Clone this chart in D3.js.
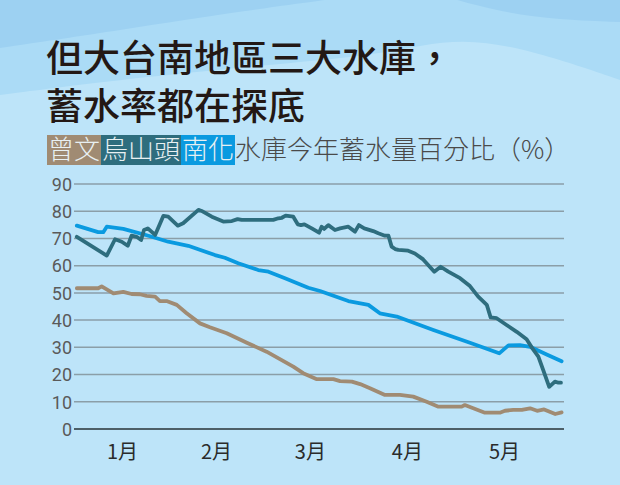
<!DOCTYPE html>
<html>
<head>
<meta charset="utf-8">
<script src="https://cdn.jsdelivr.net/npm/d3@7"></script>
<style>
  html, body { margin: 0; padding: 0; background: #bde4f9; }
  svg { display: block; }
</style>
</head>
<body>
<svg id="chart" width="620" height="485"></svg>
<script>
// 曾文水庫
const zengwenDay = [1.3, 8, 9.1, 12.8, 15.9, 18.5, 21.1, 23.2, 25.9, 27.4, 29.5, 32.7, 35.8, 40, 43.1, 48.4, 54.7, 60.9, 69.3, 72.4, 76.7, 81.9, 84, 87.7, 90.3, 93.4, 98.1, 102.8, 107, 111.2, 114.9, 122.2, 123.2, 129.5, 134.2, 135.8, 138.4, 141.1, 143.7, 145.9, 148.1, 151.6, 153.6]
const zengwenVal = [51.7, 51.7, 52.4, 49.8, 50.4, 49.6, 49.5, 48.9, 48.6, 47, 47, 45.6, 42.5, 38.8, 37.4, 35.2, 31.7, 28.4, 22.9, 20.5, 18.3, 18.3, 17.6, 17.4, 16.5, 15, 12.5, 12.5, 11.9, 10, 8.2, 8.2, 8.8, 6, 6, 6.7, 7, 7, 7.6, 6.7, 7.2, 5.5, 6.1]
// 烏山頭水庫
const wushantouDay = [1.3, 10.7, 13.3, 15.4, 17.3, 18.5, 20.1, 21.5, 22.4, 23.6, 25.9, 28.5, 30, 33, 34.7, 39.5, 40.5, 43.7, 47.3, 50, 51.8, 53.1, 63, 64.6, 65.7, 66.9, 69.3, 70.7, 71.7, 72.8, 75.1, 77.4, 78.2, 79, 80.3, 82.4, 84, 86.6, 88.7, 89.9, 91.6, 94.4, 96, 98.1, 99.2, 100.2, 101.3, 102.3, 105.4, 107.5, 110.1, 113.6, 115.6, 118, 121.7, 124.8, 127.4, 130.1, 131.3, 133.2, 136.3, 139.5, 142.6, 144.2, 146.3, 147.8, 149.7, 151.5, 152.6, 153.4]
const wushantouVal = [70.6, 63.7, 69.7, 68.8, 67.3, 71, 70.6, 69.4, 73.1, 73.7, 71.3, 78.3, 78, 74.7, 75.6, 80.5, 80.1, 78, 76.2, 76.4, 77.1, 76.8, 76.8, 77.4, 77.6, 78.4, 78, 75.2, 74.9, 75.2, 73.7, 72.1, 74.3, 73.5, 74.9, 73.1, 73.7, 74.3, 72.5, 74.9, 73.7, 72.7, 71.9, 71, 71, 67, 66.1, 65.8, 65.5, 64.5, 62.3, 57.8, 59.6, 57.8, 55.4, 52.5, 48.6, 45.6, 41, 40.7, 38.2, 35.7, 33, 30, 26.6, 21.7, 15.5, 17.4, 17, 17]
// 南化水庫
const nanhuaDay = [1.3, 8, 9.6, 10.7, 15.9, 23.8, 30, 36.3, 44.7, 47.8, 52, 58.3, 61.5, 66.7, 74, 77.7, 86.6, 92.9, 96.5, 101.8, 113.3, 124.8, 134, 136.9, 140.5, 143.7, 148.9, 153.6]
const nanhuaVal = [74.7, 72.3, 72.3, 74.3, 73.5, 71, 68.8, 67.3, 63.9, 62.9, 60.9, 58.4, 57.8, 55.4, 51.9, 50.7, 47, 45.6, 42.5, 41.3, 36.4, 31.7, 27.8, 30.7, 30.8, 30.2, 27.4, 24.9]

const yTicks = [0, 10, 20, 30, 40, 50, 60, 70, 80, 90]
const monthLabels = ["1月", "2月", "3月", "4月", "5月"]
const monthMid = [15.5, 45, 74.5, 105, 135.5]

const names = ["曾文", "烏山頭", "南化"]
const colors = ["#a08b73", "#2e6d7e", "#0a9ae0"]

let svg = d3.select("#chart")
const width = 620, height = 485

// 背景的波浪
svg.append("rect").attr("width", width).attr("height", height).attr("fill", "#bde4f9")
let wave = d3.line().curve(d3.curveBasis)
svg.append("path")
    .attr("d", "M0,0 " + wave([[0, 95], [150, 76], [300, 62], [380, 55], [463, 35], [547, 55], [620, 80]]).replace("M", "L") + " L620,0 Z")
    .attr("fill", "#abdbf6")
svg.append("path")
    .attr("d", "M0,0 L0,48 " + wave([[0, 48], [120, 30], [250, 10], [340, -2]]).replace("M", "L") + " Z")
    .attr("fill", "#9dd1f2")
svg.append("path")
    .attr("d", "M450,-2 " + wave([[450, -2], [500, 12], [560, 20], [620, 22]]).replace("M", "L") + " L620,0 Z")
    .attr("fill", "#9dd1f2")

// 标题
let title = svg.append("g")
    .attr("font-family", "'Noto Sans CJK TC', 'Noto Sans CJK SC', sans-serif")
    .attr("font-weight", 500)
    .attr("font-size", 37)
    .attr("fill", "#231815")
title.append("text").attr("x", 46).attr("y", 72).text("但大台南地區三大水庫，")
title.append("text").attr("x", 46).attr("y", 120).text("蓄水率都在探底")

// 图例 + 副标题
let legend = svg.append("g")
    .attr("font-family", "'Noto Sans CJK TC', 'Noto Sans CJK SC', sans-serif")
    .attr("font-size", 26)
    .attr("font-weight", 300)
let lx = 47
names.forEach((name, i) => {
    let w = name.length * 26 + 2
    legend.append("rect")
        .attr("x", lx).attr("y", 135)
        .attr("width", w).attr("height", 30)
        .attr("fill", colors[i])
    legend.append("text")
        .attr("x", lx + 1).attr("y", 159)
        .attr("fill", "#e8f0f2")
        .text(name)
    lx += w
})
legend.append("text")
    .attr("x", lx).attr("y", 159)
    .attr("fill", "#4a4a4a")
    .text("水庫今年蓄水量百分比（%）")

// 比例尺
let x = d3.scaleLinear().domain([0, 155]).range([72.7, 72.7 + 155 * 3.183])
let y = d3.scaleLinear().domain([0, 90]).range([429, 184])

// 网格线
let grid = svg.append("g")
grid.selectAll("line")
    .data(yTicks.filter(d => d > 0))
    .enter()
    .append("line")
    .attr("x1", 74).attr("x2", 564)
    .attr("y1", d => y(d)).attr("y2", d => y(d))
    .attr("stroke", "#8b9ea8")
    .attr("stroke-width", 1.5)
svg.append("line")
    .attr("x1", 74).attr("x2", 564)
    .attr("y1", y(0)).attr("y2", y(0))
    .attr("stroke", "#4d5f68")
    .attr("stroke-width", 2)

// y 轴
let yAxis = d3.axisLeft(y).tickValues(yTicks).tickSize(0).tickPadding(0)
let yg = svg.append("g").attr("transform", "translate(72,0)").call(yAxis)
yg.select(".domain").remove()
yg.selectAll("text")
    .attr("font-family", "Roboto, sans-serif")
    .attr("font-size", 18)
    .attr("fill", "#5a5a5a")
    .attr("dy", "0.35em")

// x 轴
let xAxis = d3.axisBottom(x).tickValues(monthMid).tickFormat((d, i) => monthLabels[i]).tickSize(0).tickPadding(0)
let xg = svg.append("g").attr("transform", "translate(0,441)").call(xAxis)
xg.select(".domain").remove()
xg.selectAll("text")
    .attr("font-family", "'Noto Sans CJK TC', sans-serif")
    .attr("font-size", 20)
    .attr("fill", "#2b2b2b")
    .attr("dy", "0.9em")

// 折线
let line = d3.line().x(d => x(d[0])).y(d => y(d[1]))
let series = [
    d3.zip(zengwenDay, zengwenVal),
    d3.zip(wushantouDay, wushantouVal),
    d3.zip(nanhuaDay, nanhuaVal)
]
let order = [0, 2, 1]
svg.append("g")
    .selectAll("path")
    .data(order)
    .enter()
    .append("path")
    .attr("d", i => line(series[i]))
    .attr("fill", "none")
    .attr("stroke", i => colors[i])
    .attr("stroke-width", 3.8)
    .attr("stroke-linejoin", "round")
    .attr("stroke-linecap", "round")
</script>
</body>
</html>
